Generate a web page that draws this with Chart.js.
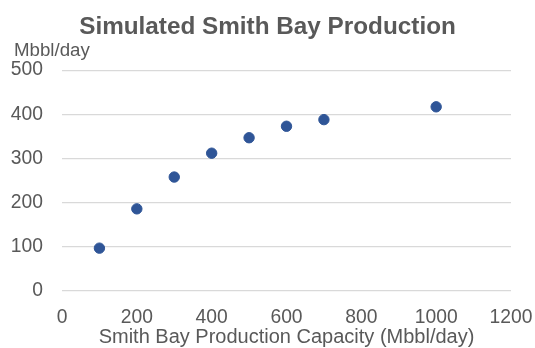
<!DOCTYPE html>
<html>
<head>
<meta charset="utf-8">
<script src="https://cdn.jsdelivr.net/npm/chart.js@4.4.0/dist/chart.umd.min.js"></script>
<style>
  html, body { margin: 0; padding: 0; background: #fff; }
  #wrap { width: 535px; height: 348px; }
</style>
</head>
<body>
<div id="wrap"><canvas id="chart"></canvas></div>
<script>
// capacity (Mbbl/day) vs simulated production (Mbbl/day)
const capacity = [100, 200, 300, 400, 500, 600, 700, 1000];
const production = [97, 186, 258, 312, 347, 373, 388, 417];

const textColor = '#595959';
const fontFamily = '"Liberation Sans", Arial, sans-serif';

const unitLabel = {
  id: 'unitLabel',
  afterDraw(chart) {
    const ctx = chart.ctx;
    ctx.save();
    ctx.fillStyle = textColor;
    ctx.font = '18.7px ' + fontFamily;
    ctx.textAlign = 'left';
    ctx.textBaseline = 'alphabetic';
    ctx.fillText('Mbbl/day', 14, 56);
    ctx.restore();
  }
};

const ctx = document.getElementById('chart').getContext('2d');
new Chart(ctx, {
  type: 'scatter',
  data: {
    datasets: [{
      label: 'Simulated Smith Bay Production',
      data: capacity.map((x, i) => ({ x: x, y: production[i] })),
      backgroundColor: '#2F5597',
      borderColor: '#2F5597',
      pointRadius: 5.2,
      pointHoverRadius: 5.2
    }]
  },
  options: {
    responsive: true,
    maintainAspectRatio: false,
    animation: false,
    layout: { padding: 0 },
    plugins: {
      legend: { display: false },
      tooltip: { enabled: false },
      title: {
        display: true,
        text: 'Simulated Smith Bay Production',
        color: textColor,
        font: { family: fontFamily, size: 24.3, weight: 'bold' },
        padding: { top: 13, bottom: 28 }
      }
    },
    scales: {
      x: {
        type: 'linear',
        min: 0,
        max: 1200,
        border: { display: false },
        grid: { display: false, drawTicks: false },
        ticks: {
          stepSize: 200,
          color: textColor,
          padding: 15,
          font: { family: fontFamily, size: 19.3 },
          callback: v => String(v)
        },
        title: {
          display: true,
          text: 'Smith Bay Production Capacity (Mbbl/day)',
          color: textColor,
          font: { family: fontFamily, size: 20, lineHeight: 1.05 },
          padding: { top: 0, bottom: 0 }
        },
        afterFit(scale) {
          scale.height = 57;
          scale.paddingRight = 24;
        }
      },
      y: {
        min: 0,
        max: 500,
        border: { display: false },
        grid: { color: '#D9D9D9', lineWidth: 1.3, drawTicks: false },
        ticks: {
          stepSize: 100,
          color: textColor,
          padding: 19,
          font: { family: fontFamily, size: 19.3 }
        },
        afterFit(scale) { scale.width = 62; }
      }
    }
  },
  plugins: [unitLabel]
});
</script>
</body>
</html>
